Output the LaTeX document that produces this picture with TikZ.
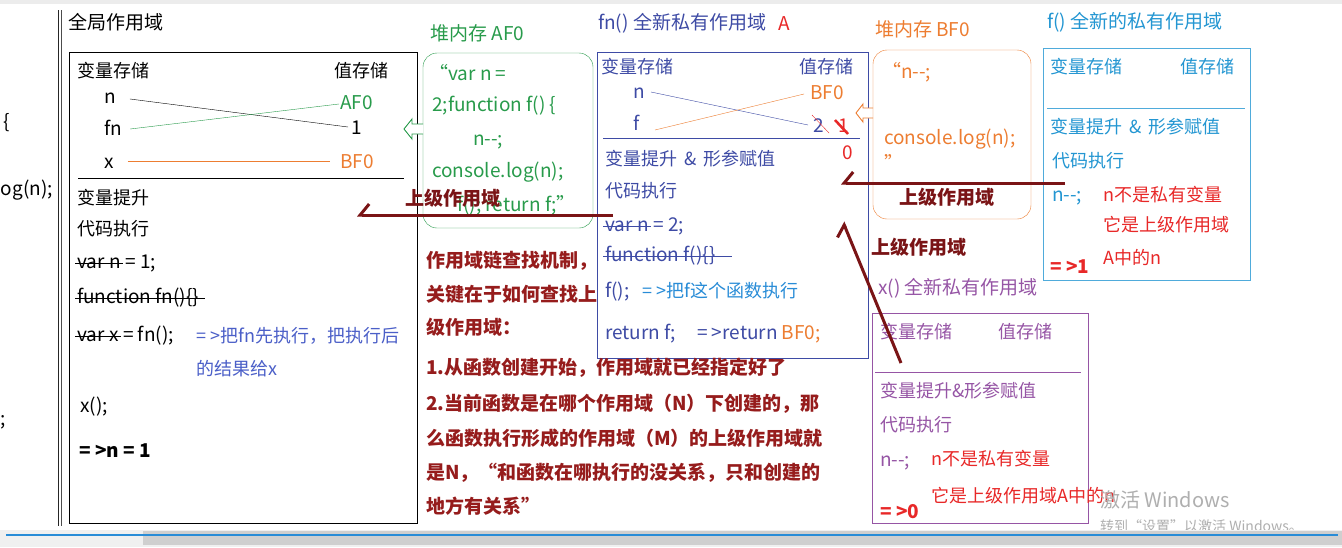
\documentclass[tikz,border=0pt]{standalone}
\usepackage{fontspec}
\setmainfont{Noto Sans CJK SC}
\usetikzlibrary{arrows.meta}
\definecolor{dred}{RGB}{122,20,22}
\definecolor{tred}{RGB}{150,28,28}
\definecolor{jgreen}{RGB}{40,155,75}
\definecolor{jorange}{RGB}{237,125,49}
\definecolor{jblue}{RGB}{62,75,165}
\definecolor{lblue}{RGB}{40,140,215}
\definecolor{jcyan}{RGB}{35,150,210}
\definecolor{jpurple}{RGB}{150,85,165}
\definecolor{jred}{RGB}{232,40,40}
\definecolor{gblue}{RGB}{75,95,200}
\definecolor{wm}{RGB}{175,175,175}
\newcommand{\myopenq}{\makebox[8pt][r]{“}}
\newcommand{\mycloseq}{\makebox[8pt][l]{”}}
\begin{document}
\begin{tikzpicture}[x=1pt,y=-1pt,
  t/.style={anchor=west,inner sep=0pt,text height=13.5pt,text depth=3.5pt,font=\fontsize{18}{20}\selectfont},
  tt/.style={t,font=\fontsize{19}{21}\selectfont},
  tb/.style={t,font=\fontsize{19}{21}\selectfont\bfseries},
  strike/.style={line width=1pt},
  redarrow/.style={draw=dred,line width=3pt,-{Straight Barb[harpoon,swap,length=9pt,width=22pt]}},
  redarrowd/.style={draw=dred,line width=3pt,-{Straight Barb[harpoon,length=9pt,width=22pt]}},
  hollow/.style={line width=0.9pt,fill=white,line join=miter}]
\useasboundingbox (0,0) rectangle (1342,547);
\fill[white] (0,0) rectangle (1342,547);
\fill[gray!15] (0,0) rectangle (1342,4);

% left partial code
\node[tt] (lc1) at (3,123) {\{};
\node[tt,anchor=east] (lc2) at (53,190) {og(n);};
\node[tt] (lc3) at (0,420) {;};
\draw[line width=1.4pt,black!85] (58.5,10) -- (58.5,526);
\draw[line width=0.6pt,black!70] (61.5,10) -- (61.5,526);

% ===== global scope =====
\node[tt] (gtitle) at (68,24) {全局作用域};
\draw[line width=0.9pt] (69,52) rectangle (417,523);
\node[t] (gvs) at (77,72) {变量存储};
\node[t,anchor=east] (gzs) at (389,72) {值存储};
\node[tt] (gn) at (104,98) {n};
\node[tt] (gfn) at (104,130) {fn};
\node[tt] (gx) at (104,163) {x};
\node[tt,text=jgreen] (gaf) at (340,104) {AF0};
\node[tt] (g1) at (351,129) {1};
\node[tt,text=jorange] (gbf) at (340,163) {BF0};
\draw[thin] ([xshift=14pt,yshift=-1pt]gn.east) -- ([xshift=-3pt,yshift=2pt]g1.west);
\draw[thin,jgreen] ([xshift=8pt,yshift=1pt]gfn.east) -- ([xshift=-1pt]gaf.west);
\draw[thin,jorange] ([xshift=14pt,yshift=2pt]gx.east) -- ([xshift=-10pt,yshift=2pt]gbf.west);
\draw[thin] (78,178) -- (404,178);
\node[t] (gh) at (77,199) {变量提升};
\node[t] (gc) at (77,230) {代码执行};
\node[tt] (gv1) at (77,263) {var n};
\node[tt] (gv1b) at (gv1.east) {\ = 1;};
\draw[strike] ([xshift=-2pt]gv1.center -| gv1.west) -- ([xshift=2pt]gv1.center -| gv1.east);
\node[tt] (gfun) at (77,298) {function fn()\{\}};
\draw[strike] ([xshift=-2pt]gfun.center -| gfun.west) -- ([xshift=6pt]gfun.center -| gfun.east);
\node[tt] (gv2) at (77,336) {var x};
\node[tt] (gv2b) at (gv2.east) {\ = fn();};
\draw[strike] ([xshift=-2pt]gv2.center -| gv2.west) -- ([xshift=2pt]gv2.center -| gv2.east);
\node[t,text=gblue] (gnote1) at (196,337) {= >把fn先执行，把执行后};
\node[t,text=gblue] (gnote2) at (196,370) {的结果给x};
\node[tt] (gxc) at (80,407) {x();};
\node[tb] (gres) at (79,452) {= >n = 1};

% ===== heap AF0 =====
\node[tt,text=jgreen] (htitleA) at (430,35) {堆内存 AF0};
\draw[jgreen,thin,rounded corners=14pt] (423,53) rectangle (593,228);
\node[tt,text=jgreen] (ha1) at (440,75) {\myopenq var n =};
\node[tt,text=jgreen] (ha2) at (432,106) {2;function f() \{};
\node[tt,text=jgreen] (ha3) at (473,140) {n-{}-;};
\node[tt,text=jgreen] (ha4) at (432,172) {console.log(n);};
\node[tt,text=jgreen] (ha5) at (457,206) {f(); return f;\mycloseq};
\draw[hollow,draw=jgreen] (423,124) -- (412,124) -- (412,119) -- (404,129) -- (412,139) -- (412,134) -- (423,134);

% ===== fn() scope A =====
\node[tt,text=jblue] (ftitle) at (598,24) {fn() 全新私有作用域};
\node[tt,text=jred] (fA) at (778,25) {A};
\draw[jblue,thin] (597,52) rectangle (868,358);
\node[t,text=jblue] (fvs) at (601,68) {变量存储};
\node[t,text=jblue,anchor=east] (fzs) at (854,68) {值存储};
\node[tt,text=jblue] (fn1) at (633,93) {n};
\node[tt,text=jblue] (ff1) at (633,125) {f};
\node[tt,text=jorange] (fbf) at (810,94) {BF0};
\node[tt,text=jblue] (f2) at (813,127) {2};
\node[tt,text=jred] (f1) at (838,127) {1};
\node[tt,text=jred] (f0) at (842,154) {0};
\draw[thin,jblue] (651,92) -- (808,125);
\draw[thin,jorange] (655,130) -- (804,94);
\draw[thin,jred] (812,115) -- (829,133);
\draw[line width=2.5pt,jred] (835,120) -- (848,134);
\draw[thin,jblue] (603,138) -- (860,138);
\node[t,text=jblue] (fh) at (605,160) {变量提升 \,\&\, 形参赋值};
\node[t,text=jblue] (fc) at (605,192) {代码执行};
\node[tt,text=jblue] (fv1) at (605,226) {var n};
\node[tt,text=jblue] (fv1b) at (fv1.east) {\ = 2;};
\draw[strike,jblue] ([xshift=-2pt]fv1.center -| fv1.west) -- ([xshift=2pt]fv1.center -| fv1.east);
\node[tt,text=jblue] (ffun) at (605,256) {function f()\{\}};
\draw[strike,jblue] ([xshift=-2pt]ffun.center -| ffun.west) -- ([xshift=16pt]ffun.center -| ffun.east);
\node[tt,text=jblue] (fcall) at (605,292) {f();};
\node[t,text=lblue] (fcalln) at (642,292) {= >把f这个函数执行};
\node[tt,text=jblue] (fret) at (605,334) {return f;};
\node[tt,text=jblue] (fretn) at (697,334) {= >return \textcolor{jorange}{BF0;}};
\draw[hollow,draw=jorange] (873,108) -- (863,108) -- (863,104) -- (856,113) -- (863,122) -- (863,118) -- (873,118);

% ===== heap BF0 =====
\node[tt,text=jorange] (htitleB) at (875,31) {堆内存 BF0};
\draw[jorange,thin,rounded corners=14pt] (873,50) rectangle (1031,219);
\node[tt,text=jorange] (hb1) at (893,73) {\myopenq n-{}-;};
\node[tt,text=jorange] (hb2) at (884,139) {console.log(n);};
\node[tt,text=jorange] (hb3) at (884,165) {\mycloseq};

% ===== f() scope =====
\node[tt,text=jcyan] (ctitle) at (1047,23) {f() 全新的私有作用域};
\draw[jcyan!80,thin] (1043,48) rectangle (1250,280);
\node[t,text=jcyan] (cvs) at (1050,68) {变量存储};
\node[t,text=jcyan] (czs) at (1180,68) {值存储};
\draw[thin,jcyan!80] (1047,108) -- (1245,108);
\node[t,text=jcyan] (ch) at (1050,128) {变量提升 \,\&\, 形参赋值};
\node[t,text=jcyan] (cc) at (1052,162) {代码执行};
\node[tt,text=jcyan] (cn) at (1052,196) {n-{}-;};
\node[t,text=jred] (cr1) at (1103,196) {n不是私有变量};
\node[t,text=jred] (cr2) at (1103,226) {它是上级作用域};
\node[t,text=jred] (cr3) at (1103,259) {A中的n};
\node[tb,text=jred] (cres) at (1050,268) {= >1};

% ===== x() scope =====
\node[tt,text=jpurple] (xtitle) at (878,289) {x() 全新私有作用域};
\draw[jpurple,thin] (872,313) rectangle (1088,523);
\node[t,text=jpurple] (xvs) at (880,333) {变量存储};
\node[t,text=jpurple] (xzs) at (998,333) {值存储};
\draw[thin,jpurple] (875,372) -- (1081,372);
\node[t,text=jpurple] (xh) at (880,392) {变量提升\&形参赋值};
\node[t,text=jpurple] (xc) at (880,426) {代码执行};
\node[tt,text=jpurple] (xn) at (880,461) {n-{}-;};
\node[t,text=jred] (xr1) at (931,460) {n不是私有变量};
\node[t,text=jred] (xr2) at (931,497) {它是上级作用域A中的n};
\node[tb,text=jred] (xres) at (880,513) {= >0};

% ===== explanation =====
\node[tb,text=tred] (e1) at (426,262) {作用域链查找机制，};
\node[tb,text=tred] (e2) at (426,296) {关键在于如何查找上};
\node[tb,text=tred] (e3) at (426,329) {级作用域：};
\node[tb,text=tred] (e4) at (426,369) {1.从函数创建开始，作用域就已经指定好了};
\node[tb,text=tred] (e5) at (426,405) {2.当前函数是在哪个作用域（N）下创建的，那};
\node[tb,text=tred] (e6) at (426,440) {么函数执行形成的作用域（M）的上级作用域就};
\node[tb,text=tred] (e7) at (426,474) {是N，“和函数在哪执行的没关系，只和创建的};
\node[tb,text=tred] (e8) at (426,508) {地方有关系”};

% ===== upper-scope arrows =====
\node[tb,text=dred] (up1) at (405,200) {上级作用域};
\node[tb,text=dred] (up2) at (899,199) {上级作用域};
\node[tb,text=dred] (up3) at (871,249) {上级作用域};
\coordinate (a1s) at (613,215);
\coordinate (a1e) at (357,215);
\coordinate (a2s) at (1065,183);
\coordinate (a2e) at (841,183);
\coordinate (a3s) at (901,363);
\coordinate (a3e) at (843,222);
\draw[redarrow] (a1s) -- (a1e);
\draw[redarrow] (a2s) -- (a2e);
\draw[redarrowd] (a3s) -- (a3e);

% ===== watermark =====
\node[t,text=wm,font=\fontsize{20}{22}\selectfont] (wm1) at (1100,502) {激活 Windows};
\node[t,text=wm,font=\fontsize{14}{16}\selectfont] (wm2) at (1100,526) {转到“设置”以激活 Windows。};

% ===== scrollbar =====
\fill[gray!12] (0,530) rectangle (1342,547);
\fill[gray!38] (143,531) rectangle (1342,545);
\draw[lblue,line width=1.5pt] (6,535) -- (1338,535);
\end{tikzpicture}
\end{document}
